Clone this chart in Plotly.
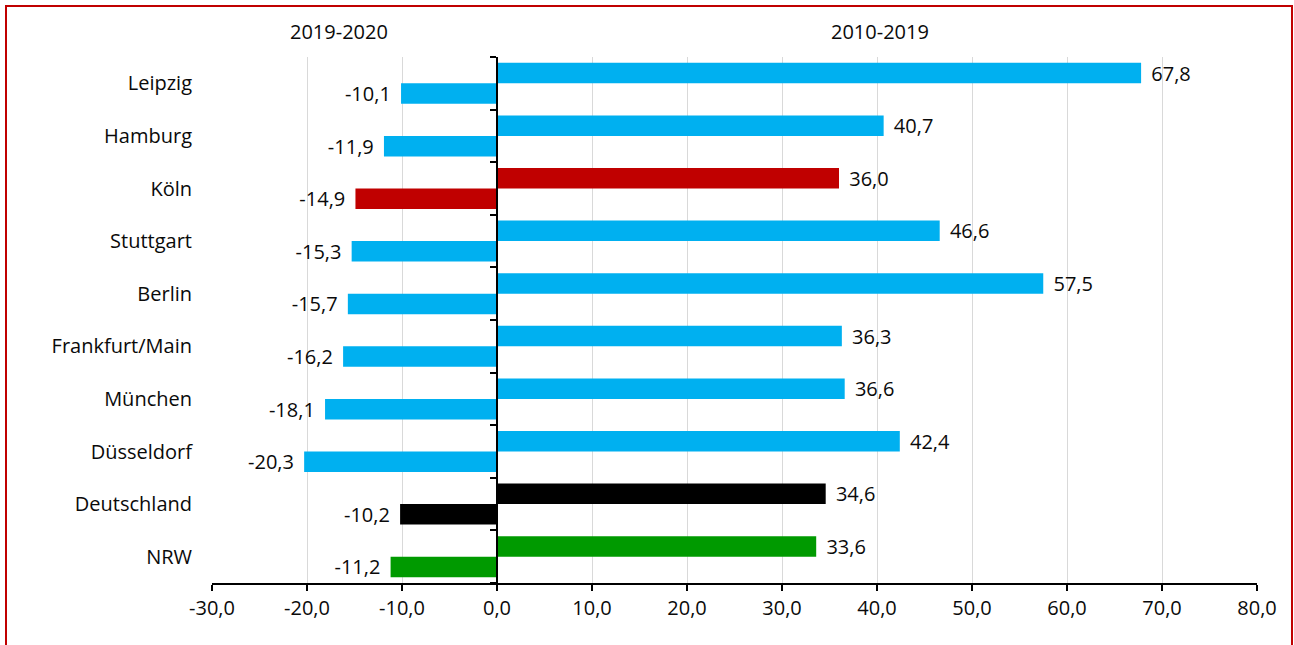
import numpy as np
import plotly.graph_objects as go

# Cities, top to bottom
cities = ["Leipzig", "Hamburg", "Köln", "Stuttgart", "Berlin",
          "Frankfurt/Main", "München", "Düsseldorf", "Deutschland", "NRW"]
# Change 2010-2019 and 2019-2020
change_2010_2019 = [67.8, 40.7, 36.0, 46.6, 57.5, 36.3, 36.6, 42.4, 34.6, 33.6]
change_2019_2020 = [-10.1, -11.9, -14.9, -15.3, -15.7, -16.2, -18.1, -20.3, -10.2, -11.2]
# Bar colour per row
bar_colors = ["#00b0f0", "#00b0f0", "#c00000", "#00b0f0", "#00b0f0",
              "#00b0f0", "#00b0f0", "#00b0f0", "#000000", "#009a00"]
x_ticks = [-30, -20, -10, 0, 10, 20, 30, 40, 50, 60, 70, 80]

FONT = "Open Sans"
TXT = "#0a0a0a"
GAP = "\u00a0\u200a"


def de(v):
    return f"{v:.1f}".replace(".", ",")


fig = go.Figure()
for name, vals in [("2010-2019", change_2010_2019), ("2019-2020", change_2019_2020)]:
    fig.add_trace(go.Bar(
        y=cities, x=vals, orientation="h", name=name,
        marker=dict(color=bar_colors, line=dict(width=0)),
        text=[GAP + de(v) if v >= 0 else de(v) + GAP for v in vals],
        textposition="outside", constraintext="none", cliponaxis=False,
        textfont=dict(family=FONT, size=20, color=TXT),
        hoverinfo="skip",
    ))

# helper trace so the zero-line axis is drawn
fig.add_trace(go.Scatter(x=[], y=[], xaxis="x", yaxis="y2", showlegend=False))

n = len(cities)
fig.update_layout(
    width=1294, height=645,
    margin=dict(l=212, r=37, t=57, b=62),
    paper_bgcolor="white", plot_bgcolor="white",
    barmode="group", bargap=0.22, bargroupgap=0,
    showlegend=False,
    font=dict(family=FONT, size=20, color=TXT),
    xaxis=dict(
        range=[x_ticks[0], x_ticks[-1]],
        tickvals=x_ticks, ticktext=[de(v) for v in x_ticks],
        showgrid=True, gridcolor="#d9d9d9", gridwidth=1,
        zeroline=False,
        showline=True, linecolor="#000000", linewidth=1.5,
        ticks="outside", ticklen=6, tickcolor="#000000", tickwidth=1.5,
        tickfont=dict(family=FONT, size=20, color=TXT),
    ),
    yaxis=dict(
        type="category", categoryorder="array", categoryarray=cities,
        range=[n - 0.5, -0.5],
        showgrid=False, zeroline=False, showline=False, ticks="",
        ticklabelstandoff=19,
        tickfont=dict(family=FONT, size=20, color=TXT),
    ),
    yaxis2=dict(
        overlaying="y", anchor="free",
        position=(0 - x_ticks[0]) / (x_ticks[-1] - x_ticks[0]),
        range=[n - 0.5, -0.5],
        tickvals=list(np.arange(n + 1) - 0.5),
        showticklabels=False, showgrid=False, zeroline=False,
        showline=True, linecolor="#000000", linewidth=1.5,
        ticks="outside", ticklen=6, tickcolor="#000000", tickwidth=1.5,
    ),
    annotations=[
        dict(text="2019-2020", xref="paper", yref="paper", x=0.1215, y=1.049,
             xanchor="center", yanchor="middle", showarrow=False,
             font=dict(family=FONT, size=20, color=TXT)),
        dict(text="2010-2019", xref="paper", yref="paper", x=0.639, y=1.049,
             xanchor="center", yanchor="middle", showarrow=False,
             font=dict(family=FONT, size=20, color=TXT)),
    ],
    shapes=[
        dict(type="rect", xref="paper", yref="paper",
             x0=(6 - 212) / 1045, x1=(1292 - 212) / 1045,
             y0=-0.3, y1=1 + (57 - 6) / 526,
             line=dict(color="#c00000", width=2), fillcolor="rgba(0,0,0,0)",
             layer="above"),
    ],
)

fig.write_html("out.html")
